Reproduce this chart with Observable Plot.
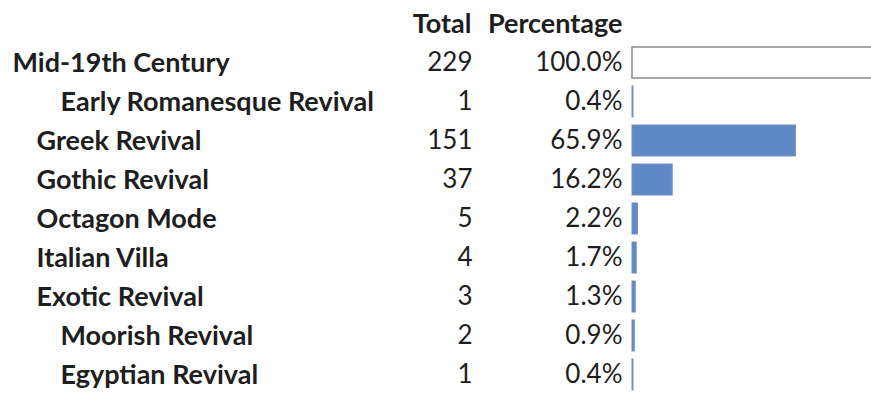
<!DOCTYPE html>
<html>
<head>
<meta charset="utf-8">
<script src="https://cdn.jsdelivr.net/npm/d3@7"></script>
<script src="https://cdn.jsdelivr.net/npm/@observablehq/plot@0.6"></script>
<style>
  html, body { margin: 0; padding: 0; background: #fff; }
  svg { display: block; }
</style>
</head>
<body>
<div id="chart"></div>
<script>
const categories = ["Mid-19th Century", "Early Romanesque Revival", "Greek Revival", "Gothic Revival", "Octagon Mode", "Italian Villa", "Exotic Revival", "Moorish Revival", "Egyptian Revival"];
const levels = [0, 2, 1, 1, 1, 1, 1, 2, 2];
const totals = [229, 1, 151, 37, 5, 4, 3, 2, 1];
const percentages = [100.0, 0.4, 65.9, 16.2, 2.2, 1.7, 1.3, 0.9, 0.4];
const headers = ["Total", "Percentage"];
const headerKey = "__header__";

const rows = categories.map((c, i) => ({category: c, level: levels[i], total: totals[i], pct: percentages[i]}));

const font = "Lato, 'Open Sans', sans-serif";
const ink = "#1e1e1e";
const labelSize = 27;
const numSize = 26;

const labelMarks = [0, 1, 2].map(k => Plot.text(rows, {
  filter: d => d.level === k,
  y: "category", text: "category",
  frameAnchor: "left", textAnchor: "start", dx: 12 + k * 24,
  fontWeight: "bold", fontSize: labelSize, fill: ink
}));

const chart = Plot.plot({
  width: 871,
  height: 400,
  margin: 0,
  style: {fontFamily: font, background: "white"},
  x: {domain: [0, 100], range: [632, 880], axis: null},
  y: {domain: [headerKey, ...categories], range: [-2, 400], padding: 0.2, axis: null},
  marks: [
    Plot.barX(rows, {filter: d => d.pct >= 100, x: "pct", y: "category", fill: "white", stroke: "#8a8a8a", strokeWidth: 1.5}),
    Plot.barX(rows, {filter: d => d.pct < 100, x: "pct", y: "category", fill: "#5f89c6", stroke: "#7390bb", strokeWidth: 1}),
    ...labelMarks,
    Plot.text(rows, {y: "category", text: d => String(d.total), frameAnchor: "left", dx: 472, textAnchor: "end", fontSize: numSize, fill: ink}),
    Plot.text(rows, {y: "category", text: d => d.pct.toFixed(1) + "%", frameAnchor: "left", dx: 622, textAnchor: "end", fontSize: numSize, fill: ink}),
    Plot.text([headers[0]], {y: () => headerKey, text: d => d, frameAnchor: "left", dx: 471, textAnchor: "end", fontWeight: "bold", fontSize: labelSize, fill: ink}),
    Plot.text([headers[1]], {y: () => headerKey, text: d => d, frameAnchor: "left", dx: 622, textAnchor: "end", fontWeight: "bold", fontSize: labelSize, fill: ink})
  ]
});
document.getElementById("chart").appendChild(chart);
</script>
</body>
</html>
